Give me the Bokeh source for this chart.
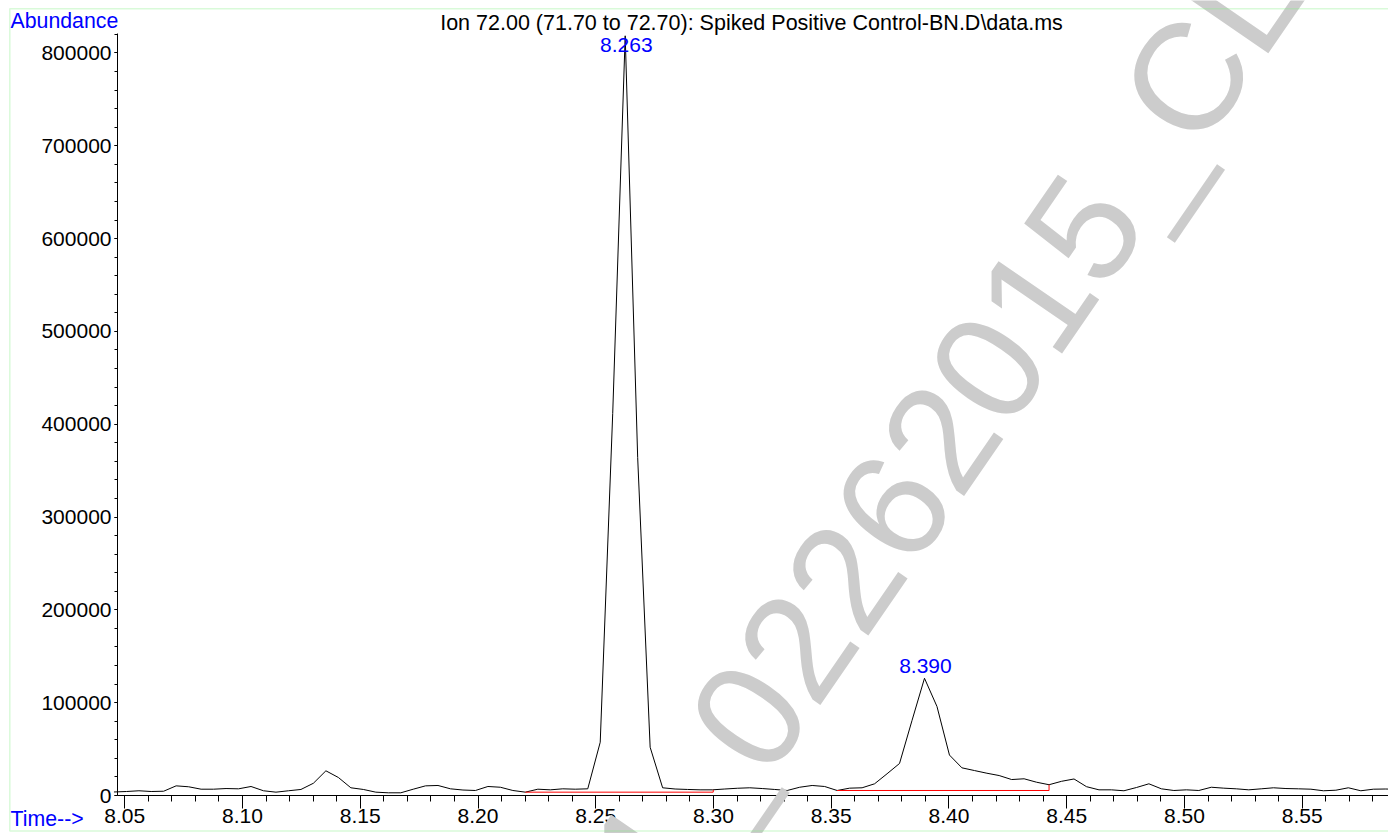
import math
from bokeh.plotting import figure
from bokeh.models import Range1d, SingleIntervalTicker, NumeralTickFormatter, Label, BoxAnnotation
from bokeh.embed import file_html
from bokeh.resources import INLINE

# ---- data ----
times = [8.0454, 8.0507, 8.0560, 8.0612, 8.0665, 8.0718, 8.0771, 8.0824, 8.0877, 8.0930,
         8.0983, 8.1036, 8.1089, 8.1142, 8.1195, 8.1248, 8.1301, 8.1354, 8.1407, 8.1460,
         8.1513, 8.1566, 8.1619, 8.1672, 8.1725, 8.1777, 8.1830, 8.1883, 8.1936, 8.1989,
         8.2042, 8.2095, 8.2148, 8.2201, 8.2254, 8.2307, 8.2360, 8.2413, 8.2466, 8.2519,
         8.2572, 8.2625, 8.2678, 8.2731, 8.2784, 8.2837, 8.2890, 8.2943, 8.2995, 8.3048,
         8.3101, 8.3154, 8.3207, 8.3260, 8.3313, 8.3366, 8.3419, 8.3472, 8.3525, 8.3578,
         8.3631, 8.3684, 8.3737, 8.3790, 8.3843, 8.3896, 8.3949, 8.4002, 8.4055, 8.4108,
         8.4161, 8.4213, 8.4266, 8.4319, 8.4372, 8.4425, 8.4478, 8.4531, 8.4584, 8.4637,
         8.4690, 8.4743, 8.4796, 8.4849, 8.4902, 8.4955, 8.5008, 8.5061, 8.5114, 8.5167,
         8.5220, 8.5273, 8.5326, 8.5378, 8.5431, 8.5484, 8.5537, 8.5590, 8.5643, 8.5696,
         8.5749, 8.5802, 8.5855, 8.5908]
abundance = [3800, 4300, 5100, 4300, 4600, 10400, 9400, 6800, 6800, 7500,
             7200, 9700, 5100, 3600, 5100, 6500, 13200, 26600, 19400, 8300,
             6500, 3600, 2900, 2900, 6800, 10400, 10800, 7200, 5900, 5400,
             9700, 8900, 5400, 3600, 6800, 6100, 7200, 6800, 7200, 57400,
             411500, 818500, 364000, 52000, 8300, 7000, 6500, 6100, 6100, 7000,
             7800, 8300, 7500, 6500, 5400, 8900, 10800, 9700, 5400, 7900,
             8300, 12600, 23400, 34500, 80800, 126300, 95900, 43600, 29800, 26900,
             24000, 21500, 17200, 18000, 14300, 11600, 15300, 17800, 9500, 6100,
             6100, 5100, 8600, 12600, 7200, 5400, 6100, 5400, 8900, 7900,
             7200, 6100, 7200, 8300, 7500, 7200, 6800, 5100, 5700, 8300,
             5100, 6800, 7000, 6500]

baseline1_t = [8.2201, 8.2999, 8.2999]
baseline1_a = [3600, 3600, 6100]
baseline2_t = [8.3525, 8.4425, 8.4425]
baseline2_a = [5400, 5400, 11600]

peak_rt = [8.263, 8.390]
peak_text = ["8.263", "8.390"]

title_text = "Ion  72.00 (71.70 to 72.70): Spiked Positive Control-BN.D\\data.ms"
y_title = "Abundance"
x_title = "Time-->"
watermark_text = "02262015_CL"
watermark_tail = "1_"

FONT = "Liberation Sans"
FS = "21px"
BLUE = "#0000ff"

# axis extents (data)
XA0, XA1 = 8.0469, 8.58665
YA0, YA1 = 0, 821000

# the frame covers the whole page; axes are pinned inside it
W, H = 1388, 833
PX_PER_X = 2354.8          # pixels per minute
Y_PER_PX = 1077.4          # abundance per pixel
X_AT_0 = 8.05 - 124.3 / PX_PER_X
X_AT_W = X_AT_0 + W / PX_PER_X
Y_AT_BOTTOM = -(H - 795) * Y_PER_PX
Y_AT_TOP = 795 * Y_PER_PX
TXT_SHIFT = 8              # svg text baseline correction (px)

def sx(px):
    return X_AT_0 + px / PX_PER_X

def sy(py):
    return (795 - py) * Y_PER_PX

p = figure(width=W, height=H, x_range=Range1d(X_AT_0, X_AT_W), y_range=Range1d(Y_AT_BOTTOM, Y_AT_TOP),
           output_backend="svg", toolbar_location=None,
           min_border_left=0, min_border_right=0, min_border_top=0, min_border_bottom=0)
p.xgrid.visible = False
p.ygrid.visible = False
p.outline_line_color = None
p.background_fill_color = "white"
p.border_fill_color = "white"

xa = p.xaxis[0]
xa.fixed_location = 0
xa.bounds = (XA0, XA1)
xa.ticker = SingleIntervalTicker(interval=0.05, num_minor_ticks=5)
xa.formatter = NumeralTickFormatter(format="0.00")
xa.major_tick_in = 0
xa.major_tick_out = 13
xa.minor_tick_in = 0
xa.minor_tick_out = 6
xa.major_label_standoff = 0
ya = p.yaxis[0]
ya.fixed_location = XA0
ya.bounds = (YA0, YA1)
ya.ticker = SingleIntervalTicker(interval=100000, num_minor_ticks=5)
ya.formatter = NumeralTickFormatter(format="0")
ya.major_tick_in = 0
ya.major_tick_out = 3
ya.minor_tick_in = 0
ya.minor_tick_out = 3
ya.major_label_standoff = 3
for ax in (xa, ya):
    ax.major_label_text_font = FONT
    ax.major_label_text_font_size = FS
    ax.major_label_text_color = "black"
    ax.axis_line_color = "black"
    ax.major_tick_line_color = "black"
    ax.minor_tick_line_color = "black"

# watermark
WM_FS = 152
wm_ang = 55.5
wm_style = dict(angle=wm_ang, angle_units="deg", text_font=FONT, text_font_size=f"{WM_FS}px",
                text_color="#cccccc", text_align="left", text_baseline="alphabetic")
p.add_layout(Label(x=sx(724), y=sy(750.5), text=watermark_text, **wm_style))
p.add_layout(Label(x=sx(624), y=sy(886), text=watermark_tail, **wm_style))

# signal
p.line(times, abundance, line_color="black", line_width=1)
p.line(baseline1_t, baseline1_a, line_color="red", line_width=1)
p.line(baseline2_t, baseline2_a, line_color="red", line_width=1)

# peak labels
p.add_layout(Label(x=peak_rt[0], y=sy(52.7 - TXT_SHIFT), text=peak_text[0], text_font=FONT,
                   text_font_size=FS, text_color=BLUE, text_align="center", text_baseline="alphabetic"))
apex2 = max(a for t, a in zip(times, abundance) if abs(t - peak_rt[1]) < 0.003)
p.add_layout(Label(x=peak_rt[1], y=apex2 + (4.5 + TXT_SHIFT) * Y_PER_PX, text=peak_text[1], text_font=FONT,
                   text_font_size=FS, text_color=BLUE, text_align="center", text_baseline="alphabetic"))

# texts around the axes
p.add_layout(Label(x=sx(754), y=sy(30 - TXT_SHIFT), text=title_text, text_font=FONT, text_font_size="21.5px",
                   text_color="black", text_align="center", text_baseline="alphabetic"))
p.add_layout(Label(x=sx(10), y=sy(28.3 - TXT_SHIFT), text=y_title, text_font=FONT, text_font_size="21.3px",
                   text_color=BLUE, text_align="left", text_baseline="alphabetic"))
p.add_layout(Label(x=sx(10), y=sy(826 - TXT_SHIFT), text=x_title, text_font=FONT, text_font_size="21.3px",
                   text_color=BLUE, text_align="left", text_baseline="alphabetic"))

# green page border
p.add_layout(BoxAnnotation(left=sx(9.3), right=sx(1400), top=sy(8.3), bottom=sy(830.5),
                           fill_alpha=0, line_color="#80f080", line_width=1.5))

open("out.html", "w").write(file_html(p, INLINE))
